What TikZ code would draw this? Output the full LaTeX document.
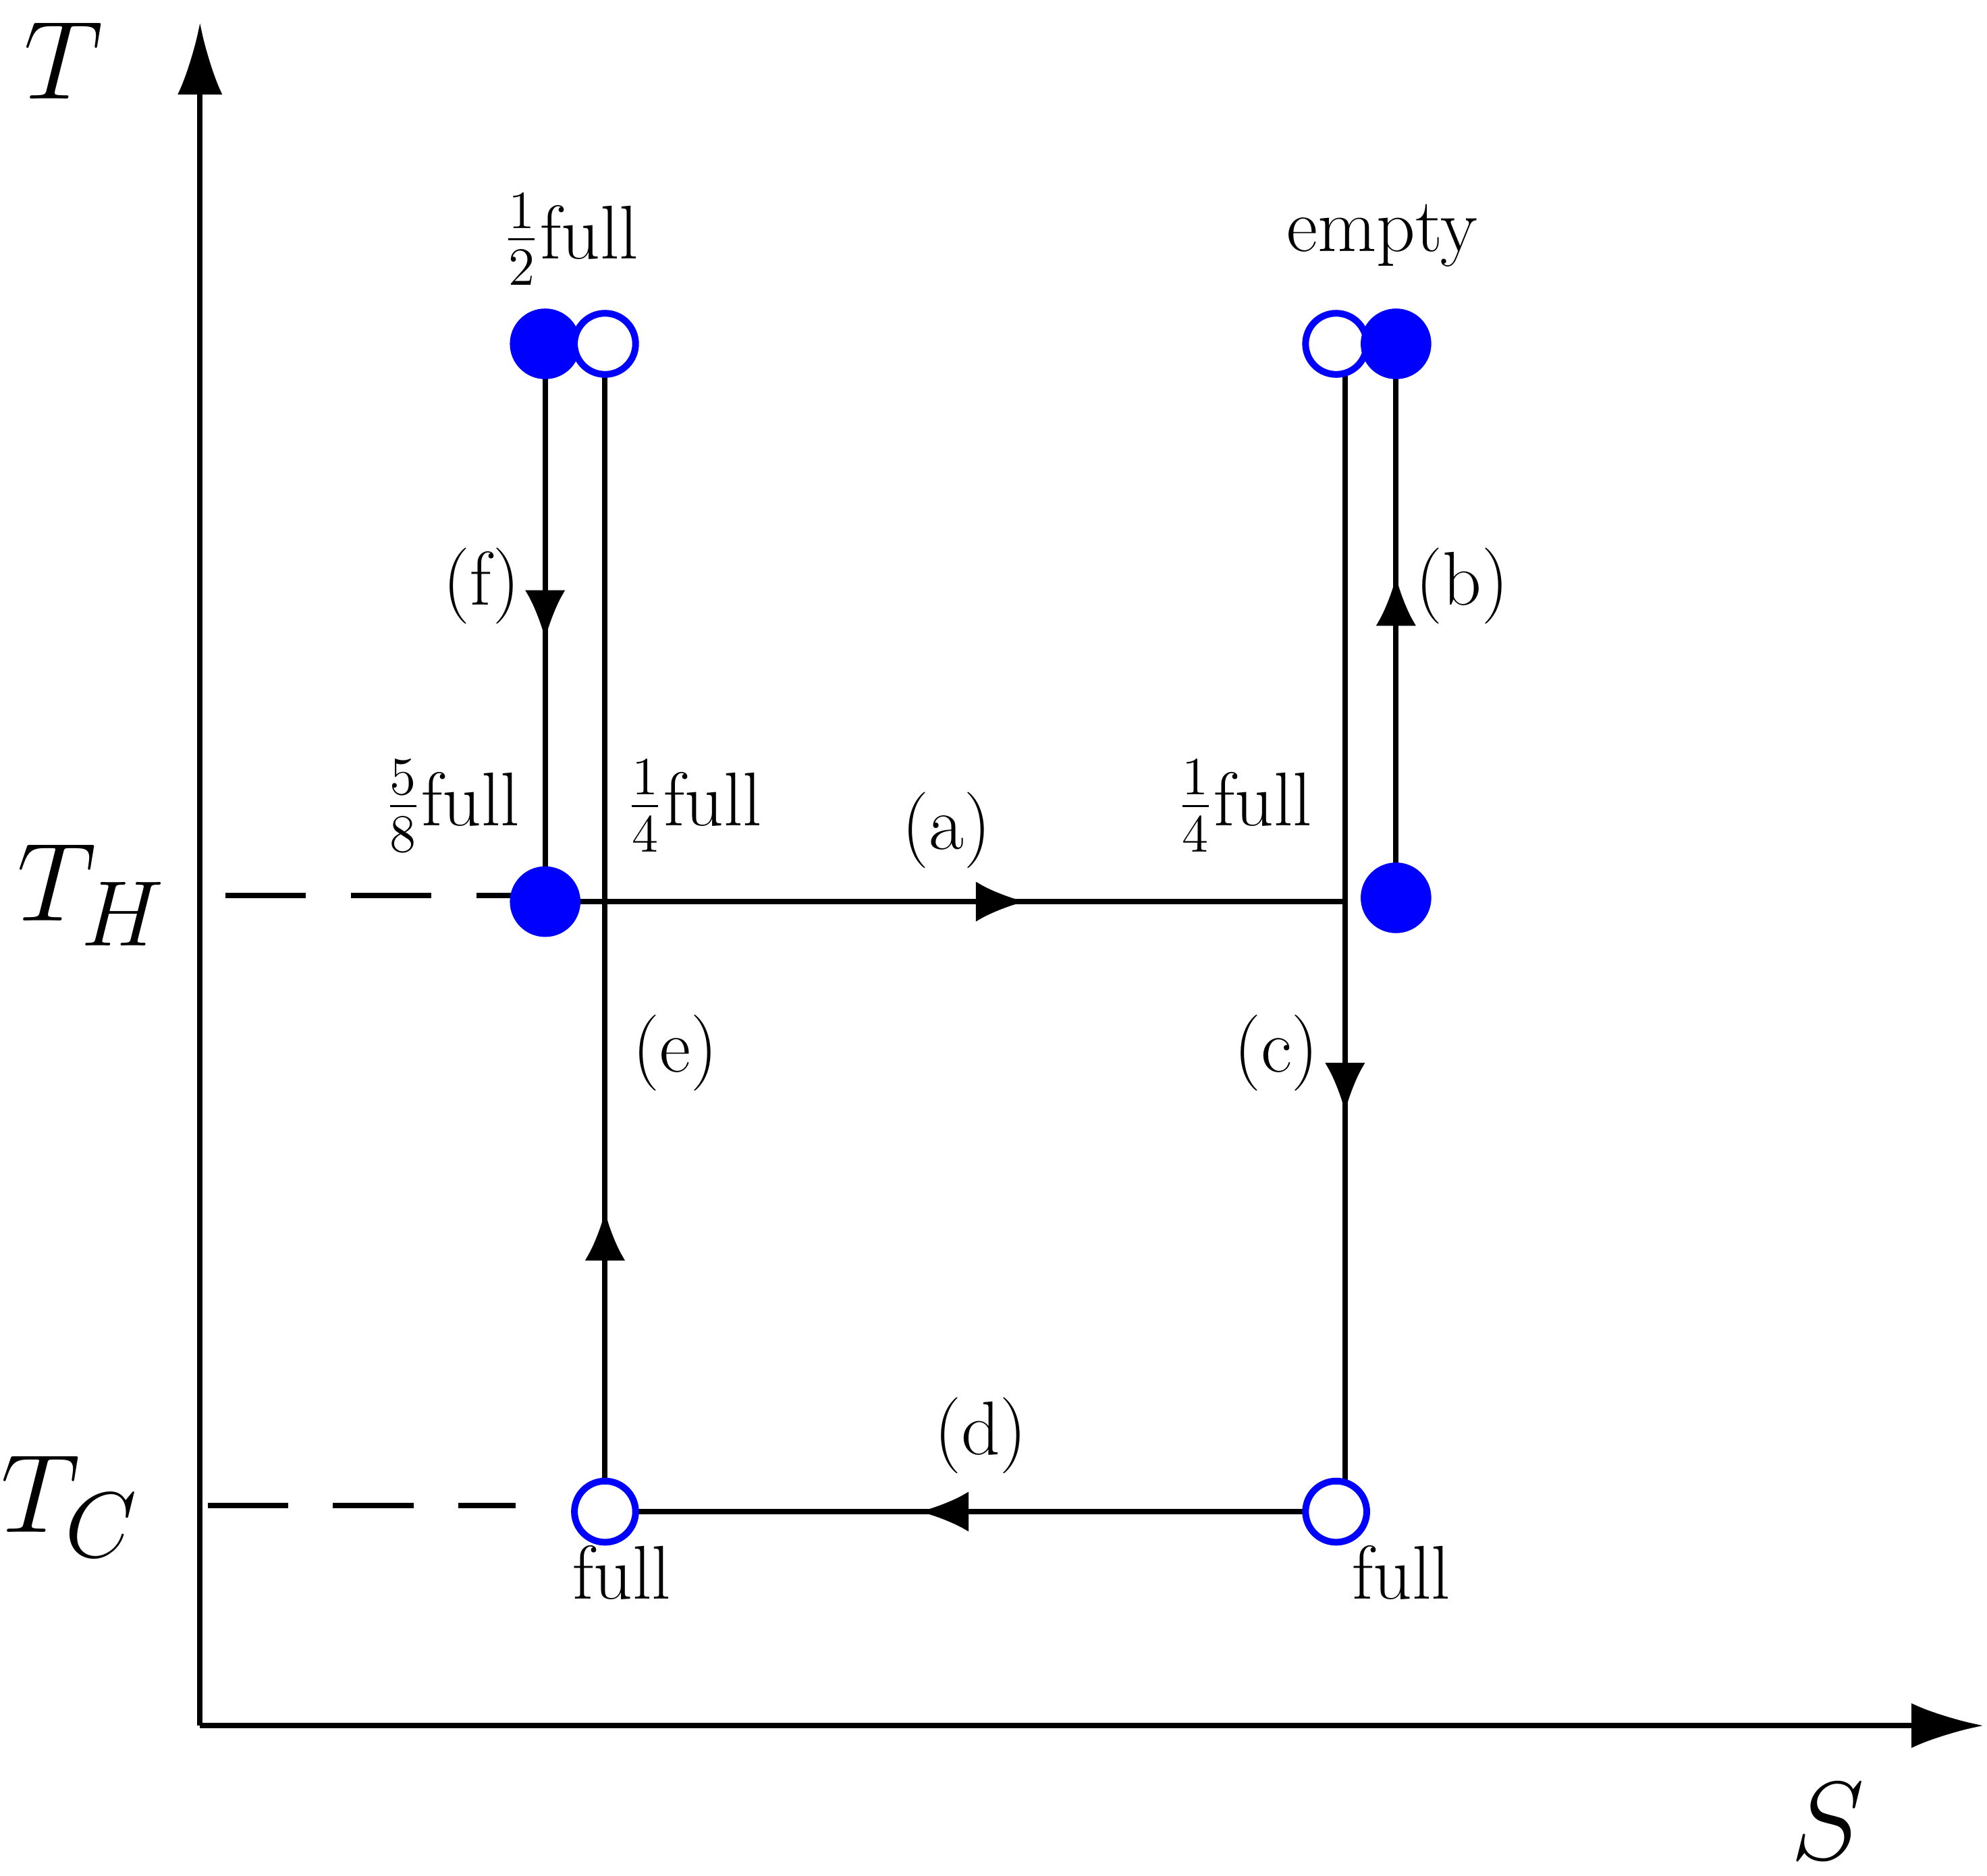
\documentclass[tikz,border=0pt]{standalone}
\usetikzlibrary{arrows.meta,decorations.markings}
\begin{document}
\begin{tikzpicture}[x=0.01cm,y=-0.01cm,
  ln/.style={line width=1.2pt},
  mid/.style={ln,postaction={decorate},decoration={markings,mark=at position #1 with {\arrow{Latex[length=11pt,width=9pt]}}}},
  fc/.style={circle,fill=blue,draw=blue,minimum size=0.54cm,inner sep=0pt},
  oc/.style={circle,fill=white,draw=blue,line width=1.5pt,minimum size=0.48cm,inner sep=0pt},
  lb/.style={font=\fontsize{17}{20}\selectfont},
  big/.style={font=\fontsize{30}{34}\selectfont}]
\useasboundingbox (0,0) rectangle (1560,1473);
\coordinate (o) at (157,1355);
\coordinate (ty) at (157,18);
\coordinate (sx) at (1557,1355);
\draw[ln,-{Latex[length=16pt,width=10pt]}] (o) -- (ty);
\draw[ln,-{Latex[length=16pt,width=10pt]}] (o) -- (sx);
\node[big] (T) at (50,48) {$T$};
\node[big] (S) at (1435,1430) {$S$};
\node[big] (TH) at (72,703) {$T_H$};
\node[big] (TC) at (55,1183) {$T_C$};
\coordinate (h1) at (177,703); \coordinate (h2) at (402,703);
\coordinate (c1) at (163,1182); \coordinate (c2) at (405,1182);
\draw[ln,dashed,dash pattern=on 18pt off 10pt] (h1) -- (h2);
\draw[ln,dashed,dash pattern=on 18pt off 10pt] (c1) -- (c2);
% lines
\coordinate (A1) at (428,270); \coordinate (A2) at (428,708);
\coordinate (B1) at (475,270); \coordinate (B2) at (475,1187);
\coordinate (C1) at (1056,270); \coordinate (C2) at (1056,1187);
\coordinate (D1) at (1096,270); \coordinate (D2) at (1096,705);
\coordinate (E1) at (1056,708);
\coordinate (F1) at (1049,1187);
\draw[ln] (B1) -- (475,870);
\draw[mid=0.7] (B2) -- (475,850) ;
\draw[mid=0.53] (A1) -- (A2);
\draw[ln] (C1) -- (1056,850);
\draw[mid=0.99] (1056,700) -- (1056,875);
\draw[ln] (1056,870) -- (C2);
\draw[mid=0.58] (D2) -- (D1);
\draw[mid=0.6] (A2) -- (E1);
\draw[mid=0.57] (F1) -- (B2);
% circles
\node[fc] (f1) at (428,270) {};
\node[oc] (o1) at (475,270) {};
\node[oc] (o2) at (1049,270) {};
\node[fc] (f2) at (1096,270) {};
\node[fc] (f3) at (428,708) {};
\node[fc] (f4) at (1096,705) {};
\node[oc] (o3) at (475,1187) {};
\node[oc] (o4) at (1049,1187) {};
% labels
\node[lb] (lf) at (378,460) {(f)};
\node[lb] (lbb) at (1148,460) {(b)};
\node[lb] (la) at (743,652) {(a)};
\node[lb] (le) at (530,827) {(e)};
\node[lb] (lc) at (1002,827) {(c)};
\node[lb] (ld) at (770,1127) {(d)};
\node[lb] (n1) at (448,188) {$\frac{1}{2}$full};
\node[lb] (n2) at (1085,185) {empty};
\node[lb] (n3) at (355,633) {$\frac{5}{8}$full};
\node[lb] (n4) at (545,633) {$\frac{1}{4}$full};
\node[lb] (n5) at (977,633) {$\frac{1}{4}$full};
\node[lb] (n6) at (488,1235) {full};
\node[lb] (n7) at (1100,1235) {full};
\end{tikzpicture}
\end{document}
